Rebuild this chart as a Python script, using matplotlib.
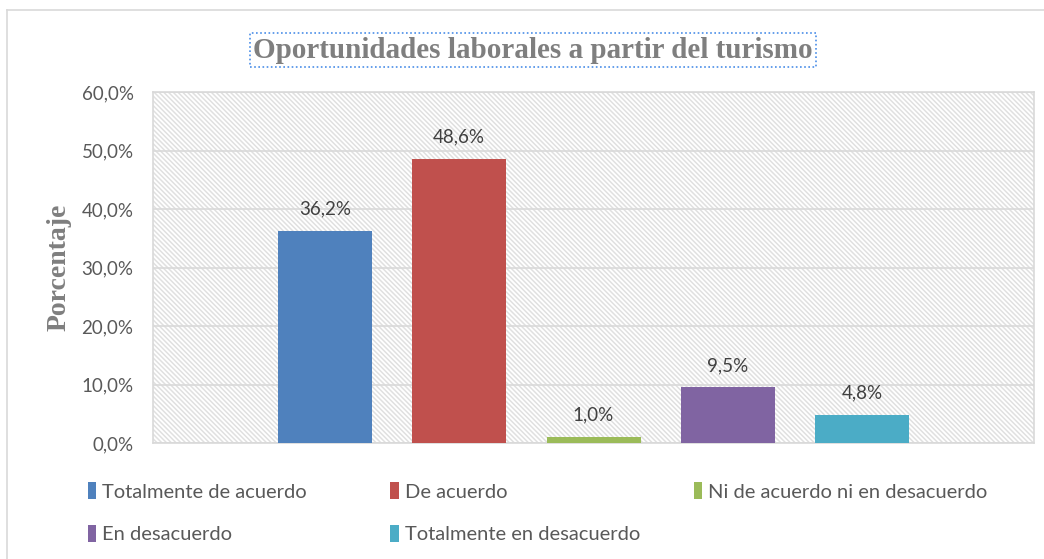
import numpy as np
import matplotlib
matplotlib.use("Agg")
import matplotlib.pyplot as plt
from matplotlib.patches import Rectangle
from matplotlib.lines import Line2D

plt.rcParams['hatch.linewidth'] = 1.1

categories = ['Totalmente de acuerdo', 'De acuerdo', 'Ni de acuerdo ni en desacuerdo',
              'En desacuerdo', 'Totalmente en desacuerdo']
values = [36.2, 48.6, 1.0, 9.5, 4.8]
colors = ['#4f81bd', '#c0504d', '#9bbb59', '#8064a2', '#4bacc6']
yticks = [0, 10, 20, 30, 40, 50, 60]

sans = 'Lato'
serif = 'Liberation Serif'

fig = plt.figure(figsize=(10.44, 5.59), dpi=100)
ax = fig.add_axes([0.1466, 0.2075, 0.8438, 0.6279])

# hatched plot area background
ax.add_patch(Rectangle((0, 0), 1, 1, transform=ax.transAxes, facecolor='white',
                       edgecolor='#e0e0e0', linewidth=0, hatch='\\' * 7, zorder=0))

x = np.arange(len(values))
bars = ax.bar(x, values, width=0.70, color=colors, edgecolor='none', zorder=3)

for xi, v in zip(x, values):
    ax.text(xi, v + 2.3, f"{v:.1f}%".replace('.', ','), ha='center', va='bottom',
            fontsize=13.5, family=sans, color='#404040', zorder=4)

ax.set_xlim(-1.28, 5.28)
ax.set_ylim(0, 60)
ax.set_yticks(yticks)
ax.set_yticklabels([f"{t:.1f}%".replace('.', ',') for t in yticks],
                   fontsize=13.5, family=sans, color='#595959')
ax.set_xticks([])
ax.tick_params(axis='y', length=0, pad=14)
ax.grid(axis='y', color='#d9d9d9', linewidth=1.2, zorder=1)
ax.set_axisbelow(True)
for s in ax.spines.values():
    s.set_color('#d9d9d9')
    s.set_linewidth(1.2)

ax.set_ylabel('Porcentaje', fontsize=20, family=serif, fontweight='bold',
              color='#7f7f7f')
ax.yaxis.set_label_coords(-0.092, 0.5)

fig.text(0.5105, 0.91, 'Oportunidades laborales a partir del turismo',
         ha='center', va='center', fontsize=21, family=serif, fontweight='bold',
         color='#7f7f7f',
         bbox=dict(boxstyle='square,pad=0.12', facecolor='white',
                   edgecolor='#4a8ee8', linestyle=(0, (1, 1.5)), linewidth=1.2))

# legend: three columns with equal pitch
col_items = [[0, 3], [1, 4], [2]]
col_x = [0.084, 0.374, 0.665]
for cx, items in zip(col_x, col_items):
    fig.legend(handles=[bars[i] for i in items], labels=[categories[i] for i in items],
               loc='upper left', bbox_to_anchor=(cx, 0.137), frameon=False,
               prop={'family': sans, 'size': 14.5}, labelcolor='#595959',
               handlelength=0.4, handleheight=0.9, handletextpad=0.3,
               labelspacing=1.2, borderpad=0, borderaxespad=0)

# outer chart border (top and left edges visible)
fig.add_artist(Line2D([0.0067, 0.0067], [0, 0.982], transform=fig.transFigure,
                      color='#d9d9d9', linewidth=1.2))
fig.add_artist(Line2D([0.0067, 1.0], [0.982, 0.982], transform=fig.transFigure,
                      color='#d9d9d9', linewidth=1.2))

fig.savefig('out.png', dpi=100)
